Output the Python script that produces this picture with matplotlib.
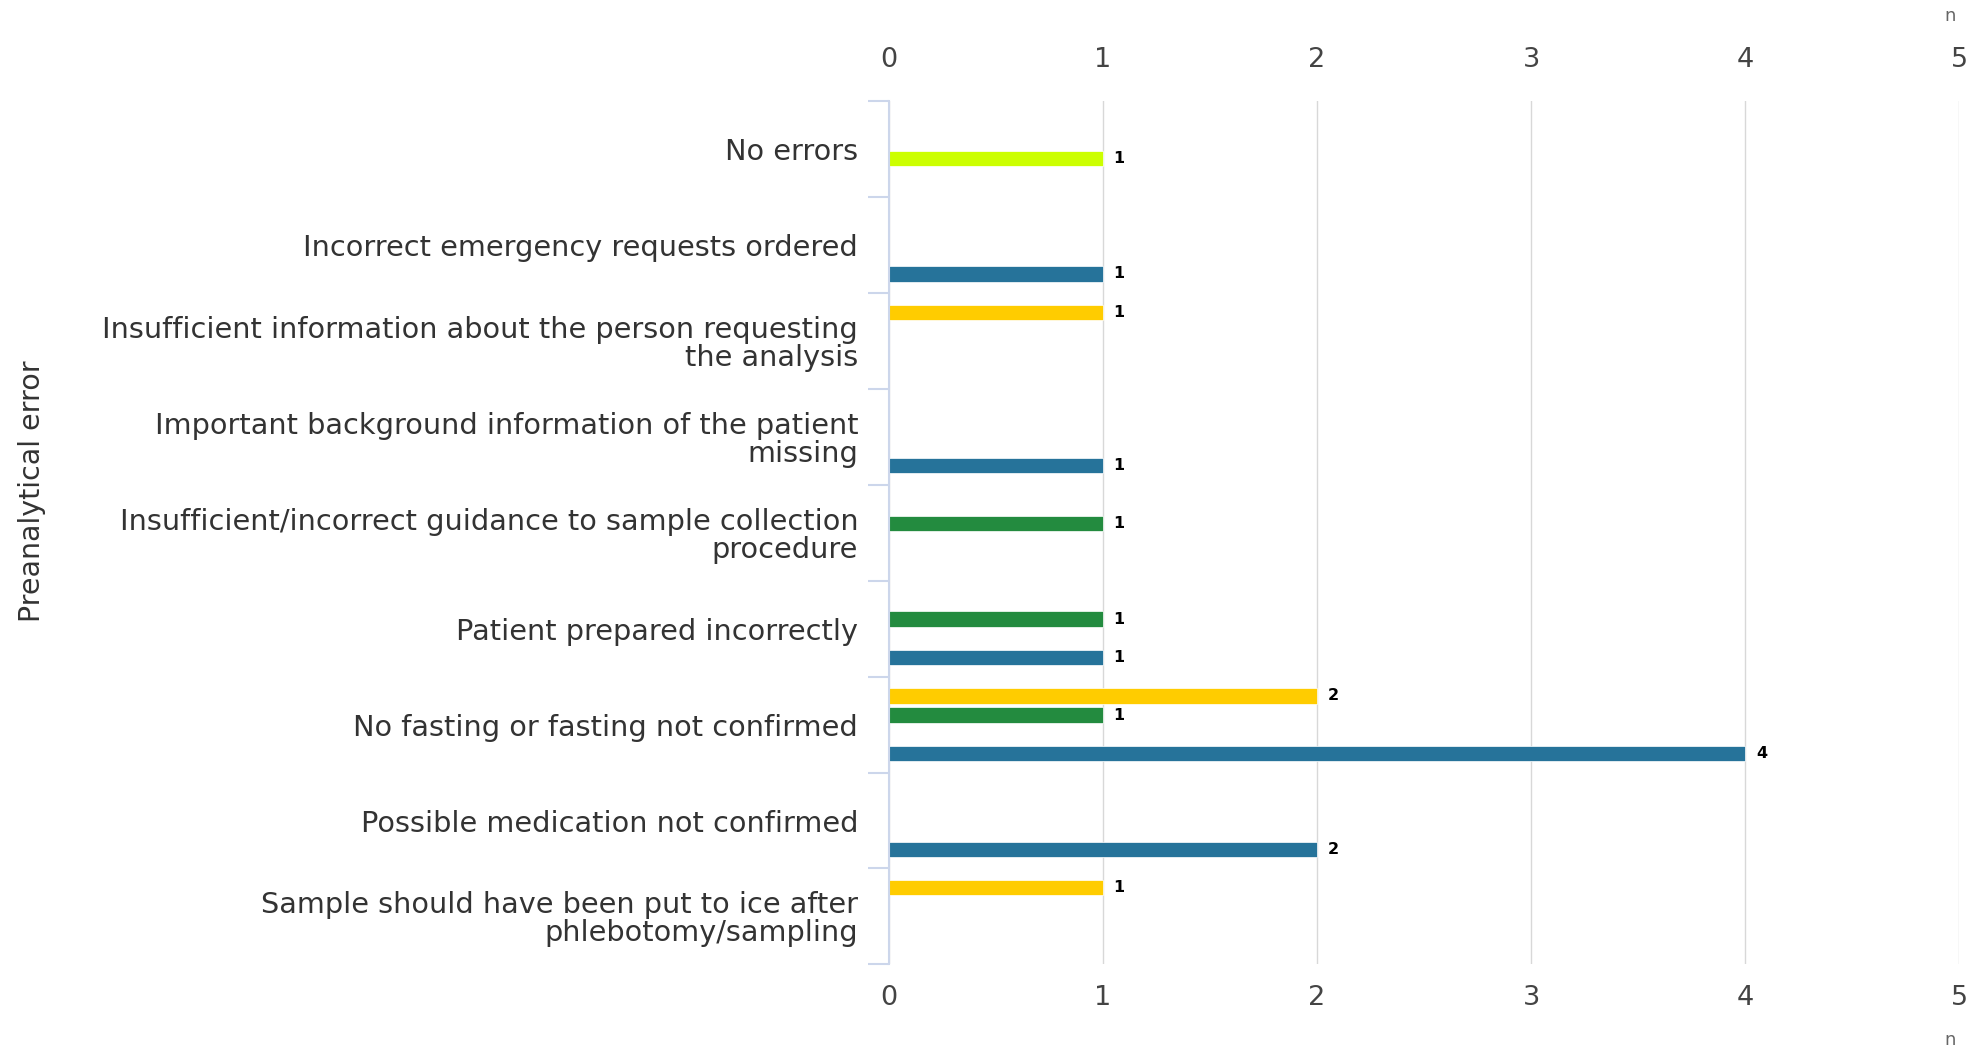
import matplotlib
matplotlib.use('Agg')
import matplotlib.pyplot as plt
from matplotlib.ticker import FixedLocator
import numpy as np

categories = ['No errors',
              'Incorrect emergency requests ordered',
              'Insufficient information about the person requesting\nthe analysis',
              'Important background information of the patient\nmissing',
              'Insufficient/incorrect guidance to sample collection\nprocedure',
              'Patient prepared incorrectly',
              'No fasting or fasting not confirmed',
              'Possible medication not confirmed',
              'Sample should have been put to ice after\nphlebotomy/sampling']

yellow = [0, 0, 1, 0, 0, 0, 2, 0, 1]
green = [0, 0, 0, 0, 1, 1, 1, 0, 0]
lime = [1, 0, 0, 0, 0, 0, 0, 0, 0]
blue = [0, 1, 0, 1, 0, 1, 4, 2, 0]

series = [yellow, green, lime, blue]
colors = ['#ffcc00', '#238b3f', '#ccff00', '#26739a']
offsets = [-0.3, -0.1, 0.1, 0.3]

fig = plt.figure(figsize=(19.75, 10.54), dpi=100)
ax = fig.add_axes([0.450, 0.085, 0.542, 0.819])

y = np.arange(len(categories))
for vals, col, off in zip(series, colors, offsets):
    for yi, v in zip(y, vals):
        if v == 0:
            continue
        ax.barh(yi + off, v, height=0.16, color=col, edgecolor='white', linewidth=0.5)
        ax.text(v + 0.05, yi + off, str(v), va='center', ha='left',
                fontsize=11.5, fontweight='bold', color='black')

ax.set_xlim(0, 5)
ax.set_ylim(len(categories) - 0.5, -0.5)
ax.set_xticks(range(6))
ax.set_yticks(y)
ax.set_yticklabels(categories, fontsize=20.7, color='#333333', linespacing=1.0)
ax.yaxis.set_minor_locator(FixedLocator(np.arange(-0.5, len(categories), 1)))
ax.tick_params(axis='y', which='major', length=0, pad=22)
ax.tick_params(axis='y', which='minor', length=15, width=1.5, color='#ccd6eb')
ax.tick_params(axis='x', which='major', length=0, labelsize=19.5, labelcolor='#444444',
               pad=15)

top = ax.secondary_xaxis('top')
top.set_xticks(range(6))
top.tick_params(axis='x', length=0, labelsize=19.5, labelcolor='#444444', pad=20)
top.spines['top'].set_visible(False)

ax.grid(axis='x', color='#d8d8d8', linewidth=1)
ax.set_axisbelow(True)
for s in ['top', 'right', 'bottom']:
    ax.spines[s].set_visible(False)
ax.spines['left'].set_color('#ccd6eb')
ax.spines['left'].set_linewidth(1.5)

fig.text(0.016, 0.534, 'Preanalytical error', rotation=90,
         va='center', ha='center', fontsize=20.5, color='#333333')
fig.text(0.9875, 0.985, 'n', ha='center', va='center', fontsize=13, color='#666666')
fig.text(0.9875, 0.013, 'n', ha='center', va='center', fontsize=13, color='#666666')

fig.savefig('out.png', dpi=100)
